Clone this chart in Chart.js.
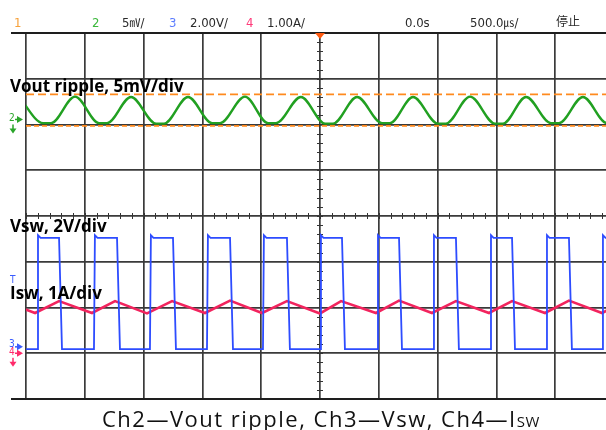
<!DOCTYPE html>
<html><head><meta charset="utf-8">
<script src="https://cdn.jsdelivr.net/npm/chart.js@4/dist/chart.umd.min.js"></script>
<style>
html,body{margin:0;padding:0;background:#fff;width:606px;height:430px;overflow:hidden}
#wrap{position:relative;width:606px;height:430px;overflow:hidden}
canvas{position:absolute;left:0;top:0}
.t{position:absolute;white-space:nowrap;line-height:1}
.hdr{font-family:"DejaVu Sans Condensed","DejaVu Sans",sans-serif;font-size:13px;color:#2a2a2a;top:16px}
.cjk{font-family:"Noto Sans CJK SC","DejaVu Sans",sans-serif}
.lbl{font-family:"Open Sans",sans-serif;font-weight:700;font-size:17px;color:#000}
.mk{font-family:"DejaVu Sans Condensed","DejaVu Sans",sans-serif;font-size:10px}
.cap{font-family:"Open Sans",sans-serif;font-size:22px;letter-spacing:1.5px;color:#111;left:102px;top:407px}
.cap .sub{font-size:15px;letter-spacing:0.5px}
</style></head>
<body>
<div id="wrap">
<canvas id="c" width="614" height="430"></canvas>
<span class="t hdr" style="left:14px;color:#f7a13a">1</span>
<span class="t hdr" style="left:92px;color:#3cb83c">2</span>
<span class="t hdr" style="left:122px">5<span class="cjk" style="font-size:11px">㎷</span>/</span>
<span class="t hdr" style="left:169px;color:#5b7cff">3</span>
<span class="t hdr" style="left:190px">2.00V/</span>
<span class="t hdr" style="left:246px;color:#ff3a7a">4</span>
<span class="t hdr" style="left:267px">1.00A/</span>
<span class="t hdr" style="left:405px">0.0s</span>
<span class="t hdr" style="left:470px">500.0<span class="cjk" style="font-size:11px">㎲</span>/</span>
<span class="t hdr cjk" style="left:556px;font-size:12px;top:15px">停止</span>
<span class="t lbl" style="left:10px;top:77px">Vout ripple, 5mV/div</span>
<span class="t lbl" style="left:10px;top:217px">Vsw, 2V/div</span>
<span class="t lbl" style="left:10px;top:284px">Isw, 1A/div</span>
<span class="t mk" style="left:9px;top:113px;color:#2aa52a">2</span>
<span class="t mk" style="left:10px;top:275px;color:#3a5cff">T</span>
<span class="t mk" style="left:9px;top:339px;color:#3a5cff">3</span>
<span class="t mk" style="left:9px;top:347px;color:#ff2a6a">4</span>
<span class="t cap">Ch2—Vout ripple, Ch3—Vsw, Ch4—I<span class="sub">SW</span></span>
</div>
<script>
// Screen: 10 div x 8 div, 500 us/div, trigger at centre (t = 0). Values in screen divisions from centre line.
// The right-most ~0.14 div of the screen lies outside the 606 px photo, as in the reference.
const TIME_MIN = -2500, TIME_MAX = 2500, TIME_STEP = 500, MINOR_STEP = 100;
const DIV_MIN = -4, DIV_MAX = 4;

// Ch2 - output ripple (alternating crest / flat trough points)
const ch2Time = [-2560,-2355,-2287,-2083,-1879,-1811,-1607,-1394,-1326,-1122,-918,-850,-638,-442,-374,-162,43,111,315,527,595,791,1003,1071,1276,1488,1556,1752,1964,2032,2236,2440,2508];
const ch2Div  = [2.60,2.03,2.03,2.61,2.03,2.03,2.60,2.02,2.02,2.60,2.03,2.03,2.61,2.03,2.03,2.60,2.02,2.02,2.60,2.03,2.03,2.60,2.02,2.02,2.61,2.02,2.02,2.60,2.03,2.03,2.60,2.03,2.03];

// Ch2 measurement cursors (orange dashed)
const cursorLevels = [2.66, 1.97];

// Ch3 - switch node voltage: edge times and levels
const vswRise = [-2406,-1922,-1446,-961,-485,0,485,961,1446,1922,2398];
const vswFall = [-2219,-1726,-1250,-765,-281,187,672,1156,1633,2117,2600];
const vswLevels = {low:-2.91, high:-0.48, overshoot:-0.42};
const vswEdge = {rise:8, settle:30, fall:25};

// Ch4 - switch current (triangle: alternating peak / valley)
const iswTime = [-2696,-2423,-2219,-1939,-1743,-1471,-1258,-978,-765,-493,-281,0,179,476,672,952,1156,1437,1633,1913,2117,2398,2602];
const iswDiv  = [-1.86,-2.12,-1.86,-2.12,-1.86,-2.13,-1.86,-2.12,-1.85,-2.12,-1.86,-2.13,-1.86,-2.12,-1.85,-2.12,-1.86,-2.12,-1.86,-2.12,-1.85,-2.12,-1.86];

const zip = (xs, ys) => xs.map((x, i) => ({x, y: ys[i]}));

const vswPts = [{x: TIME_MIN, y: vswLevels.low}];
vswRise.forEach((r, i) => {
  const f = vswFall[i];
  vswPts.push({x: r, y: vswLevels.low}, {x: r + vswEdge.rise, y: vswLevels.overshoot}, {x: r + vswEdge.settle, y: vswLevels.high},
              {x: f, y: vswLevels.high}, {x: f + vswEdge.fall, y: vswLevels.low});
});

const GRID = '#3a3a3a';

const decor = {
  id: 'decor',
  beforeDatasetsDraw(chart) {
    const {ctx, chartArea: a, scales: {x, y}} = chart;
    ctx.save();
    ctx.strokeStyle = '#333';
    ctx.lineWidth = 1;
    const y0 = y.getPixelForValue(0), x0 = x.getPixelForValue(0);
    ctx.beginPath();
    for (let t = TIME_MIN; t <= TIME_MAX; t += MINOR_STEP) {
      const px = Math.round(x.getPixelForValue(t)) + 0.5;
      ctx.moveTo(px, y0 - 3); ctx.lineTo(px, y0 + 3);
    }
    for (let d = DIV_MIN; d <= DIV_MAX + 1e-6; d += 0.2) {
      const py = Math.round(y.getPixelForValue(d)) + 0.5;
      ctx.moveTo(x0 - 3, py); ctx.lineTo(x0 + 3, py);
    }
    ctx.stroke();
    ctx.strokeStyle = '#1e1e1e'; ctx.lineWidth = 1.8;
    ctx.beginPath();
    ctx.moveTo(11, a.top); ctx.lineTo(a.right, a.top);
    ctx.moveTo(11, a.bottom); ctx.lineTo(a.right, a.bottom);
    ctx.stroke();
    ctx.restore();
  },
  afterDatasetsDraw(chart) {
    const {ctx, chartArea: a, scales: {x, y}} = chart;
    ctx.save();
    const x0 = x.getPixelForValue(0);
    ctx.fillStyle = '#ff5a10';
    ctx.beginPath(); ctx.moveTo(x0 - 5, a.top); ctx.lineTo(x0 + 5, a.top); ctx.lineTo(x0, a.top + 6); ctx.closePath(); ctx.fill();
    const arrow = (py, col) => {
      ctx.fillStyle = col;
      ctx.beginPath(); ctx.moveTo(17, py - 3.5); ctx.lineTo(23, py); ctx.lineTo(17, py + 3.5); ctx.closePath(); ctx.fill();
      ctx.fillRect(15, py - 0.75, 4, 1.5);
    };
    const down = (px, py, col) => {
      ctx.fillStyle = col;
      ctx.fillRect(px - 0.75, py, 1.5, 5);
      ctx.beginPath(); ctx.moveTo(px - 3.5, py + 4); ctx.lineTo(px + 3.5, py + 4); ctx.lineTo(px, py + 9); ctx.closePath(); ctx.fill();
    };
    arrow(y.getPixelForValue(2.11), '#2aa52a');
    down(13, y.getPixelForValue(2.0), '#2aa52a');
    arrow(y.getPixelForValue(-2.86), '#3a5cff');
    arrow(y.getPixelForValue(-3.0), '#ff2a6a');
    down(13, y.getPixelForValue(-3.1), '#ff2a6a');
    ctx.restore();
  }
};

new Chart(document.getElementById('c'), {
  type: 'line',
  data: {
    datasets: [
      {label: 'Ch3 Vsw', data: vswPts, borderColor: '#2d4cff', borderWidth: 1.8, tension: 0},
      {label: 'Ch4 Isw', data: zip(iswTime, iswDiv), borderColor: '#f2245e', borderWidth: 2.6, tension: 0},
      {label: 'Ch2 Vout', data: zip(ch2Time, ch2Div), borderColor: '#21a021', borderWidth: 2.4, cubicInterpolationMode: 'monotone'},
      {label: 'Cursor A', data: [{x: TIME_MIN, y: cursorLevels[0]}, {x: TIME_MAX, y: cursorLevels[0]}], borderColor: '#ff8a1e', borderWidth: 1.8, borderDash: [8, 4]},
      {label: 'Cursor B', data: [{x: TIME_MIN, y: cursorLevels[1]}, {x: TIME_MAX, y: cursorLevels[1]}], borderColor: '#ff8a1e', borderWidth: 1.8, borderDash: [5, 3]}
    ]
  },
  options: {
    responsive: false, animation: false, devicePixelRatio: 1,
    parsing: false,
    elements: {point: {radius: 0}},
    layout: {padding: {left: 26, top: 33, right: 0, bottom: 31}},
    plugins: {legend: {display: false}, tooltip: {enabled: false}},
    scales: {
      x: {type: 'linear', min: TIME_MIN, max: TIME_MAX,
          ticks: {display: false, stepSize: TIME_STEP},
          grid: {color: GRID, lineWidth: 1.7, drawTicks: false},
          border: {display: false}, afterFit(s) { s.height = 0; }},
      y: {type: 'linear', min: DIV_MIN, max: DIV_MAX,
          ticks: {display: false, stepSize: 1},
          grid: {color: GRID, lineWidth: 1.7, drawTicks: false},
          border: {display: false}, afterFit(s) { s.width = 0; }}
    }
  },
  plugins: [decor]
});
</script>
</body></html>
